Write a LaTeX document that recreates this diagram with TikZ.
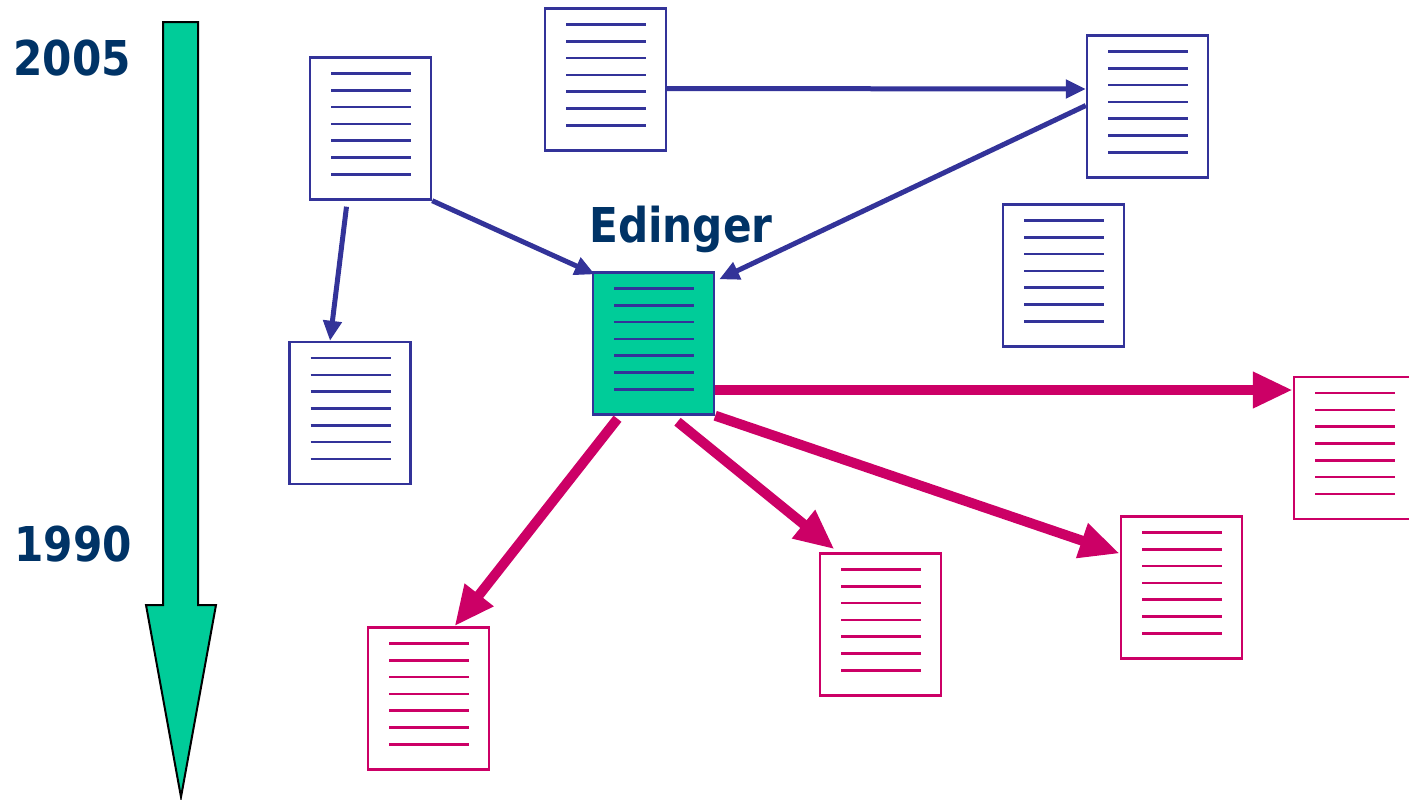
\documentclass[tikz,border=0pt]{standalone}
\usepackage{fontspec}
\newfontfamily\yearfont[FakeStretch=0.88]{DejaVu Sans}
\usetikzlibrary{arrows.meta}
\definecolor{navy}{HTML}{003366}
\definecolor{docblue}{HTML}{333399}
\definecolor{docred}{HTML}{CC0066}
\definecolor{mint}{HTML}{00CC99}
\tikzset{
    doc/.style={draw=#1, line width=1.2pt, minimum width=60.5pt, minimum height=71pt, inner sep=0pt,
        path picture={
            \foreach \k in {0,...,6}
                \draw[#1, line width=1.3pt] ([xshift=10.5pt, yshift={-8pt-8.4pt*\k}]path picture bounding box.north west) -- ++(40pt,0);
        }},
    year/.style={text=navy, font=\yearfont\bfseries\fontsize{24}{28}\selectfont},
    cite/.style={docblue, line width=2.5pt, -{Triangle[length=10pt,width=9pt]}},
    citedby/.style={docred, line width=5pt, -{Triangle[length=20pt,width=17pt]}},
}
\begin{document}
\begin{tikzpicture}[x=0.5pt, y=-0.5pt]
        \useasboundingbox (0,0) rectangle (1409,799);
        % time axis
        \filldraw[fill=mint, draw=black, line width=1pt]
            (163,22) -- (198,22) -- (198,605) -- (216,605) -- (181,797) -- (146,605) -- (163,605) -- cycle;
        \node[year] (y2005) at (72,58) {2005};
        \node[year] (y1990) at (73,544) {1990};
        % papers
        \node[doc=docblue] (d1) at (370.5,128.5) {};
        \node[doc=docblue] (d2) at (605.5,79.5) {};
        \node[doc=docblue] (d3) at (1147.5,106.5) {};
        \node[doc=docblue] (d4) at (1063.5,275.5) {};
        \node[doc=docblue] (d5) at (350,413) {};
        \node[doc=docblue, fill=mint] (edinger) at (653.5,343.5) {};
        \node[year, anchor=south] (name) at (681,260) {Edinger};
        \node[doc=docred] (m1) at (1354.5,448) {};
        \node[doc=docred] (m2) at (1181.5,587.5) {};
        \node[doc=docred] (m3) at (880.5,624.5) {};
        \node[doc=docred] (m4) at (428.5,698.5) {};
        % citations
        \draw[cite] ([yshift=-4.5pt]d2.east) -- ([yshift=8.75pt]d3.west);
        \draw[cite] ([yshift=0.5pt]d3.west) -- ([xshift=2pt,yshift=-4pt]edinger.north east);
        \draw[cite] (d1.south east) -- ([xshift=1.5pt,yshift=-1.5pt]edinger.north west);
        \draw[cite] ([xshift=-12pt,yshift=-3pt]d1.south) -- ([xshift=-10pt]d5.north);
        \draw[citedby] ([yshift=-23.25pt]edinger.east) -- ([yshift=29pt]m1.west);
        \draw[citedby] (edinger.south east) -- ([yshift=17pt]m2.west);
        \draw[citedby] ([xshift=12pt,yshift=-3pt]edinger.south) -- ([xshift=-23pt,yshift=1.5pt]m3.north);
        \draw[citedby] ([xshift=-18pt,yshift=-1.5pt]edinger.south) -- ([xshift=13pt]m4.north);
\end{tikzpicture}
\end{document}
